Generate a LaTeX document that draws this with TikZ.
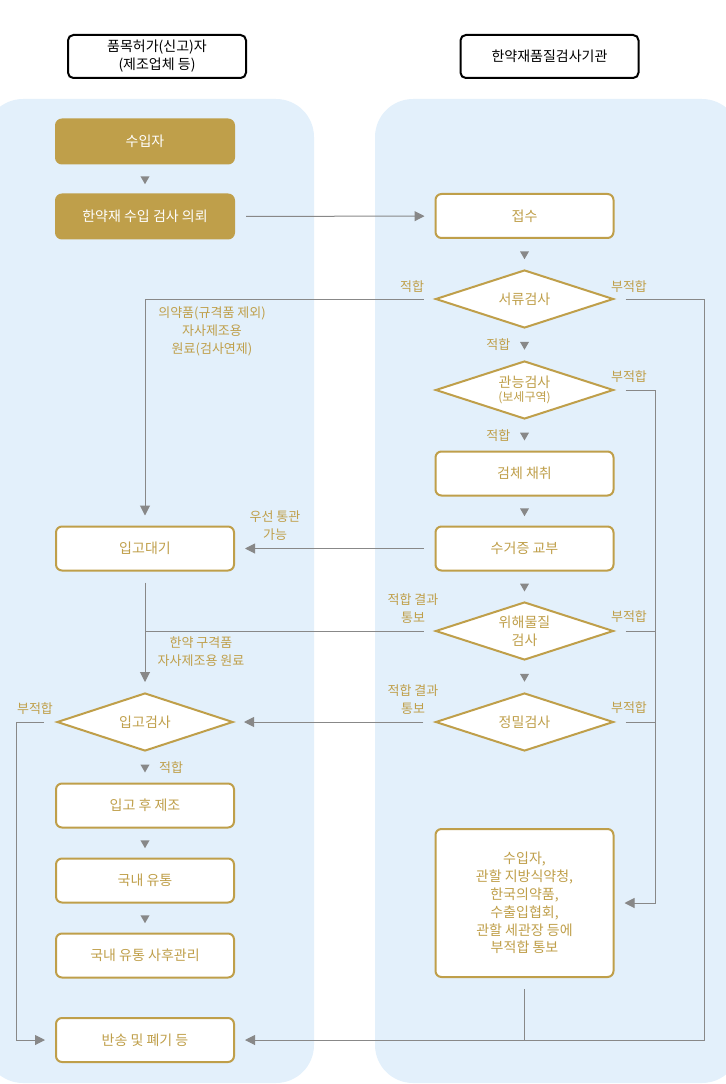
\documentclass[tikz,border=0pt]{standalone}
\usepackage{fontspec}
\setmainfont{Noto Sans CJK KR}
\usetikzlibrary{shapes.geometric, arrows.meta, positioning, calc}
\definecolor{goldtan}{RGB}{191, 159, 74}
\definecolor{panelblue}{RGB}{227, 240, 251}
\definecolor{linegray}{RGB}{136, 136, 136}

\tikzset{
  hdrbox/.style={draw=black, line width=1.5pt, rounded corners=4pt, fill=white, minimum width=133.5pt, minimum height=32.25pt, align=center, font=\fontsize{10.5}{13.5}\selectfont},
  stepbox/.style={draw=goldtan, line width=1.5pt, rounded corners=4.5pt, fill=white, text=goldtan, minimum width=133.5pt, minimum height=33pt, align=center, font=\fontsize{10.5}{13.5}\selectfont},
  startbox/.style={stepbox, fill=goldtan, text=white},
  checkbox/.style={diamond, draw=goldtan, line width=1.5pt, fill=white, text=goldtan, aspect=3, inner sep=0pt, minimum width=133.5pt, minimum height=43.5pt, align=center, font=\fontsize{10.5}{13.5}\selectfont},
  lbl/.style={text=goldtan, align=center, inner sep=0pt, font=\fontsize{9.75}{13.5}\selectfont},
  tri/.style={regular polygon, regular polygon sides=3, shape border rotate=180, fill=linegray, inner sep=0pt, minimum size=7.8pt},
  conn/.style={draw=linegray, line width=0.75pt, shorten <=8.25pt},
  arr/.style={conn, -{Triangle[length=7.5pt, width=7.5pt]}, shorten >=7.5pt}
}

\begin{document}
\begin{tikzpicture}[x=0.75pt, y=-0.75pt]
  \useasboundingbox (0,0) rectangle (725,1084);

  % panels
  \fill[panelblue, rounded corners=28.5pt] (-15,99) rectangle (314,1083);
  \fill[panelblue, rounded corners=28.5pt] (375,99) rectangle (740,1083);

  % headers
  \node[hdrbox] (hdrL) at (157,56.5) {품목허가(신고)자\\(제조업체 등)};
  \node[hdrbox] (hdrR) at (549.5,56.5) {한약재품질검사기관};

  % left column
  \node[startbox] (suip) at (145,141.5) {수입자};
  \node[startbox] (uiroe) at (145,216.5) {한약재 수입 검사 의뢰};
  \node[stepbox] (ipgodaegi) at (145,548.5) {입고대기};
  \node[checkbox, minimum width=132pt] (ipgogeomsa) at (145,722) {입고검사};
  \node[stepbox] (jejo) at (145,805.5) {입고 후 제조};
  \node[stepbox] (yutong) at (145,880.5) {국내 유통};
  \node[stepbox] (sahu) at (145,955.5) {국내 유통 사후관리};
  \node[stepbox] (bansong) at (145,1040) {반송 및 폐기 등};

  % right column
  \node[stepbox] (jeopsu) at (524.5,216) {접수};
  \node[checkbox] (seoryu) at (524.5,299) {서류검사};
  \node[checkbox] (gwanneung) at (524.5,390) {관능검사\\[-3pt]{\fontsize{9}{11}\selectfont(보세구역)}};
  \node[stepbox] (geomche) at (524.5,473.5) {검체 채취};
  \node[stepbox] (sugeo) at (524.5,548.5) {수거증 교부};
  \node[checkbox] (wihae) at (524.5,631) {위해물질\\검사};
  \node[checkbox] (jeongmil) at (524.5,722) {정밀검사};
  \node[stepbox, minimum height=111pt, font=\fontsize{10.5}{13.4}\selectfont] (tongbo) at (524.5,903) {수입자,\\관할 지방식약청,\\한국의약품,\\수출입협회,\\관할 세관장 등에\\부적합 통보};

  \coordinate (outerR) at (704,1040);
  \coordinate (innerR) at (655,903);
  \coordinate (outerL) at (16,1040);

  % step marks
  \path (suip) -- node[tri] (t1) {} (uiroe);
  \path (jeopsu) -- node[tri] (t2) {} (seoryu);
  \path (seoryu) -- node[tri] (t3) {} (gwanneung);
  \path (gwanneung) -- node[tri] (t4) {} (geomche);
  \path (geomche) -- node[tri] (t5) {} (sugeo);
  \path (sugeo) -- node[tri] (t6) {} (wihae);
  \path (wihae) -- node[tri] (t7) {} (jeongmil);
  \path (ipgogeomsa) -- node[tri] (t8) {} (jejo);
  \path (jejo) -- node[tri] (t9) {} (yutong);
  \path (yutong) -- node[tri] (t10) {} (sahu);
  \node[lbl, left=8pt of t3] {적합};
  \node[lbl, left=8pt of t4] {적합};
  \node[lbl, right=8pt of t8] {적합};

  % connectors
  \draw[arr] (uiroe) -- (jeopsu);
  \draw[arr] (seoryu.west) -| (ipgodaegi.north);
  \draw[arr] (sugeo) -- (ipgodaegi);
  \draw[arr] (ipgodaegi) -- (ipgogeomsa);
  \draw[conn] (wihae.west) -- (ipgodaegi.south |- wihae.west);
  \draw[arr] (jeongmil) -- (ipgogeomsa);
  \draw[arr] (seoryu.east) -| (outerR) -- (bansong.east);
  \draw[arr] (gwanneung.east) -| (innerR) -- (tongbo.east);
  \draw[conn] (wihae.east) -- (innerR |- wihae.east);
  \draw[conn] (jeongmil.east) -- (innerR |- jeongmil.east);
  \draw[conn] (tongbo.south) -- (tongbo.south |- outerR);
  \draw[arr, shorten <=9pt] (ipgogeomsa.west) -| (outerL) -- (bansong.west);

  % labels
  \node[lbl] at (412,287) {적합};
  \node[lbl] at (629,287) {부적합};
  \node[lbl] at (629,377) {부적합};
  \node[lbl] at (629,617) {부적합};
  \node[lbl] at (629,708) {부적합};
  \node[lbl] at (35,709) {부적합};
  \node[lbl] at (212,331) {의약품(규격품 제외)\\자사제조용\\원료(검사연제)};
  \node[lbl] at (275,526) {우선 통관\\가능};
  \node[lbl] at (413,609) {적합 결과\\통보};
  \node[lbl] at (413,700) {적합 결과\\통보};
  \node[lbl] at (201,652) {한약 구격품\\자사제조용 원료};
\end{tikzpicture}
\end{document}
